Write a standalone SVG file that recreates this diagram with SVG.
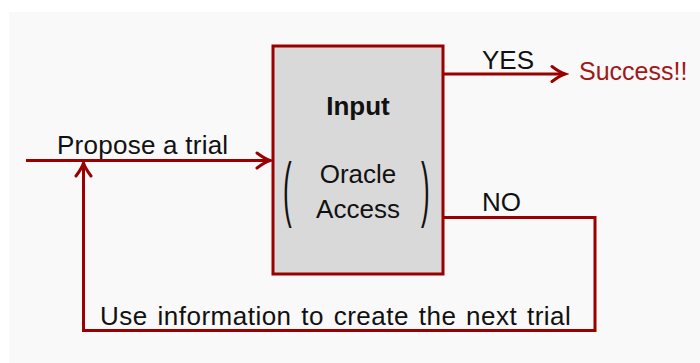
<svg xmlns="http://www.w3.org/2000/svg" width="700" height="363" viewBox="0 0 700 363">
<defs>
<style>
.t{font-family:"Liberation Sans","DejaVu Sans",sans-serif;font-size:26px;fill:#111;}
.b{font-weight:bold;}
.red{fill:#a01818;font-size:25px;}
.ln{fill:none;stroke:#9a0000;stroke-width:3;}
.par{font-family:"Liberation Sans","DejaVu Sans",sans-serif;font-size:26px;fill:#111;}
</style>
<marker id="arr" markerUnits="userSpaceOnUse" markerWidth="20" markerHeight="20" viewBox="-16 -10 20 20" refX="0" refY="0" orient="auto">
<path d="M -13 -7.5 Q -5 -1.5 0 0 Q -5 1.5 -13 7.5" fill="none" stroke="#9a0000" stroke-width="3" stroke-linecap="round"/>
</marker>
</defs>
<rect x="0" y="0" width="700" height="363" fill="#ffffff"/>
<rect x="9" y="12" width="691" height="351" fill="#f9f9f9"/>
<g id="connectors">
<path class="ln" d="M 26 160.5 H 270" marker-end="url(#arr)"/>
<path class="ln" d="M 443 74 H 565" marker-end="url(#arr)"/>
<path class="ln" d="M 443 217.5 H 595 V 330.5 H 83.5 V 163" marker-end="url(#arr)"/>
<text class="t" x="57" y="154" letter-spacing="0.25">Propose a trial</text>
<text class="t" x="482" y="69">YES</text>
<text class="t" x="482" y="211">NO</text>
<text class="t" x="100" y="325" letter-spacing="0.5" word-spacing="2">Use information to create the next trial</text>
</g>
<g id="input">
<rect x="273" y="46" width="170" height="228" fill="#d9d9d9" stroke="#9a0000" stroke-width="3"/>
<text class="t b" x="358" y="115" text-anchor="middle">Input</text>
<text class="t" x="358" y="183" text-anchor="middle">Oracle</text>
<text class="t" x="358" y="218" text-anchor="middle">Access</text>
<text class="par" transform="translate(283,213) scale(1,2.8)">(</text>
<text class="par" transform="translate(421,213) scale(1,2.8)">)</text>
</g>
<g id="success">
<text class="t red" x="579" y="80">Success!!</text>
</g>
</svg>
